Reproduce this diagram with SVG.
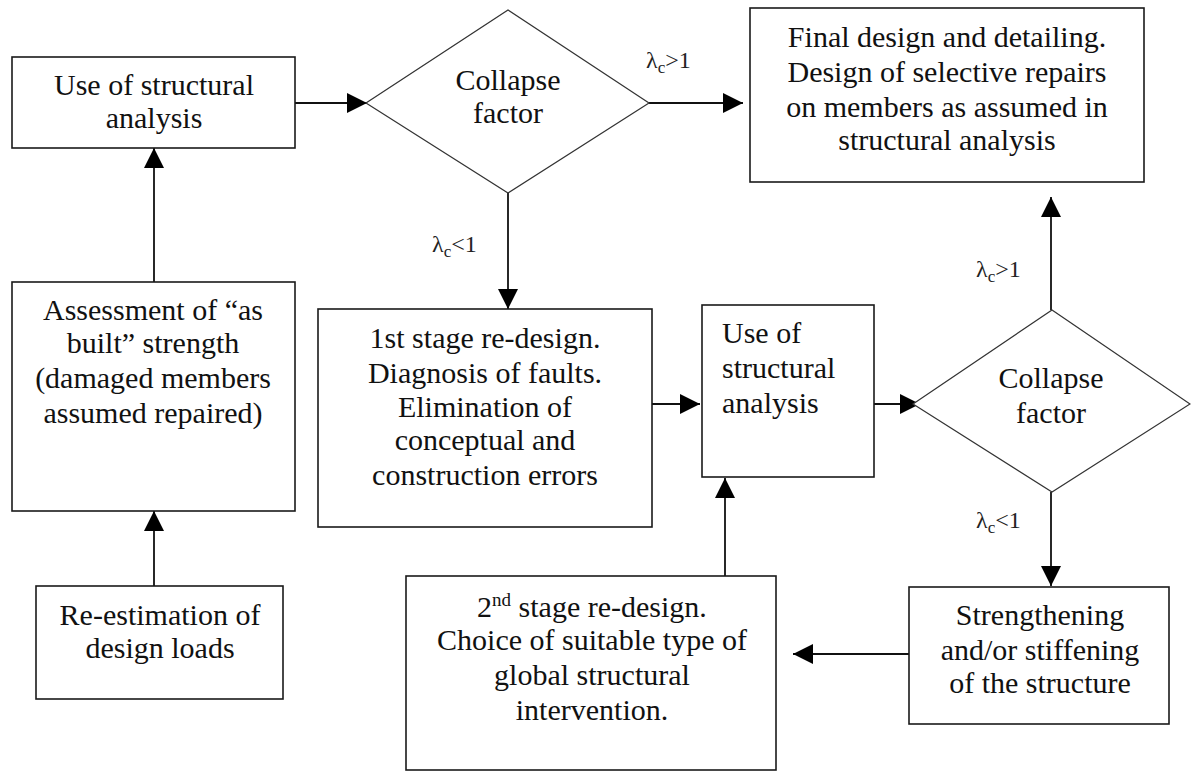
<svg xmlns="http://www.w3.org/2000/svg" width="1191" height="772" viewBox="0 0 1191 772" font-family="Liberation Serif, Times New Roman, serif">
<style>
  .box { fill: #fff; stroke: #1a1a1a; stroke-width: 1.6; }
  .dia { fill: #fff; stroke: #333; stroke-width: 1.2; }
  .t { font-size: 30px; fill: #111; text-anchor: middle; }
  .tl { font-size: 30px; fill: #111; text-anchor: start; }
  .lab { font-size: 24px; fill: #222; }
  .con { stroke: #111; stroke-width: 1.8; fill: none; marker-end: url(#ah); }
</style>
<defs>
  <marker id="ah" markerUnits="userSpaceOnUse" markerWidth="20" markerHeight="20" refX="20" refY="10" orient="auto">
    <path d="M0,0 L20,10 L0,20 z" fill="#000"/>
  </marker>
</defs>
<rect width="1191" height="772" fill="#fff"/>

<g id="connectors">
  <line class="con" x1="154" y1="282" x2="154" y2="148"/>
  <line class="con" x1="154" y1="586" x2="154" y2="511"/>
  <line class="con" x1="295" y1="103" x2="367" y2="103"/>
  <line class="con" x1="649" y1="103" x2="743" y2="103"/>
  <line class="con" x1="508" y1="193" x2="508" y2="309"/>
  <line class="con" x1="652" y1="404" x2="700" y2="404"/>
  <line class="con" x1="874" y1="404" x2="920" y2="404"/>
  <line class="con" x1="1051" y1="310" x2="1051" y2="197"/>
  <line class="con" x1="1051" y1="492" x2="1051" y2="586"/>
  <line class="con" x1="909" y1="654" x2="793" y2="654"/>
  <line class="con" x1="725" y1="576" x2="725" y2="478"/>
  <text class="lab" x="646" y="68">λ<tspan font-size="17" dy="5">c</tspan><tspan dy="-5">&gt;1</tspan></text>
  <text class="lab" x="432" y="252">λ<tspan font-size="17" dy="5">c</tspan><tspan dy="-5">&lt;1</tspan></text>
  <text class="lab" x="976" y="277">λ<tspan font-size="17" dy="5">c</tspan><tspan dy="-5">&gt;1</tspan></text>
  <text class="lab" x="976" y="528">λ<tspan font-size="17" dy="5">c</tspan><tspan dy="-5">&lt;1</tspan></text>
</g>

<g id="use-analysis-1">
  <rect class="box" x="12" y="57" width="283" height="91"/>
  <text class="t" x="154" y="95">Use of structural</text>
  <text class="t" x="154" y="128">analysis</text>
</g>

<g id="collapse-1">
  <polygon class="dia" points="366,103 508,10 649,103 508,193"/>
  <text class="t" x="508" y="90">Collapse</text>
  <text class="t" x="508" y="123">factor</text>
</g>

<g id="final-design">
  <rect class="box" x="750" y="8" width="394" height="174"/>
  <text class="t" x="947" y="47">Final design and detailing.</text>
  <text class="t" x="947" y="82">Design of selective repairs</text>
  <text class="t" x="947" y="117">on members as assumed in</text>
  <text class="t" x="947" y="150">structural analysis</text>
</g>

<g id="assessment">
  <rect class="box" x="12" y="282" width="283" height="229"/>
  <text class="t" x="153" y="320">Assessment of “as</text>
  <text class="t" x="153" y="353">built” strength</text>
  <text class="t" x="153" y="388">(damaged members</text>
  <text class="t" x="153" y="423">assumed repaired)</text>
</g>

<g id="re-estimation">
  <rect class="box" x="36" y="586" width="247" height="113"/>
  <text class="t" x="160" y="625">Re-estimation of</text>
  <text class="t" x="160" y="658">design loads</text>
</g>

<g id="first-stage">
  <rect class="box" x="318" y="309" width="334" height="218"/>
  <text class="t" x="485" y="348">1st stage re-design.</text>
  <text class="t" x="485" y="383">Diagnosis of faults.</text>
  <text class="t" x="485" y="417">Elimination of</text>
  <text class="t" x="485" y="450">conceptual and</text>
  <text class="t" x="485" y="485">construction errors</text>
</g>

<g id="use-analysis-2">
  <rect class="box" x="702" y="305" width="172" height="172"/>
  <text class="tl" x="722" y="343">Use of</text>
  <text class="tl" x="722" y="378">structural</text>
  <text class="tl" x="722" y="413">analysis</text>
</g>

<g id="collapse-2">
  <polygon class="dia" points="913,404 1052,310 1190,404 1052,492"/>
  <text class="t" x="1051" y="388">Collapse</text>
  <text class="t" x="1051" y="423">factor</text>
</g>

<g id="strengthening">
  <rect class="box" x="909" y="587" width="260" height="137"/>
  <text class="t" x="1040" y="625">Strengthening</text>
  <text class="t" x="1040" y="660">and/or stiffening</text>
  <text class="t" x="1040" y="693">of the structure</text>
</g>

<g id="second-stage">
  <rect class="box" x="406" y="576" width="370" height="194"/>
  <text class="t" x="592" y="617">2<tspan font-size="19" dy="-11">nd</tspan><tspan dy="11"> stage re-design.</tspan></text>
  <text class="t" x="592" y="650">Choice of suitable type of</text>
  <text class="t" x="592" y="685">global structural</text>
  <text class="t" x="592" y="720">intervention.</text>
</g>
</svg>
